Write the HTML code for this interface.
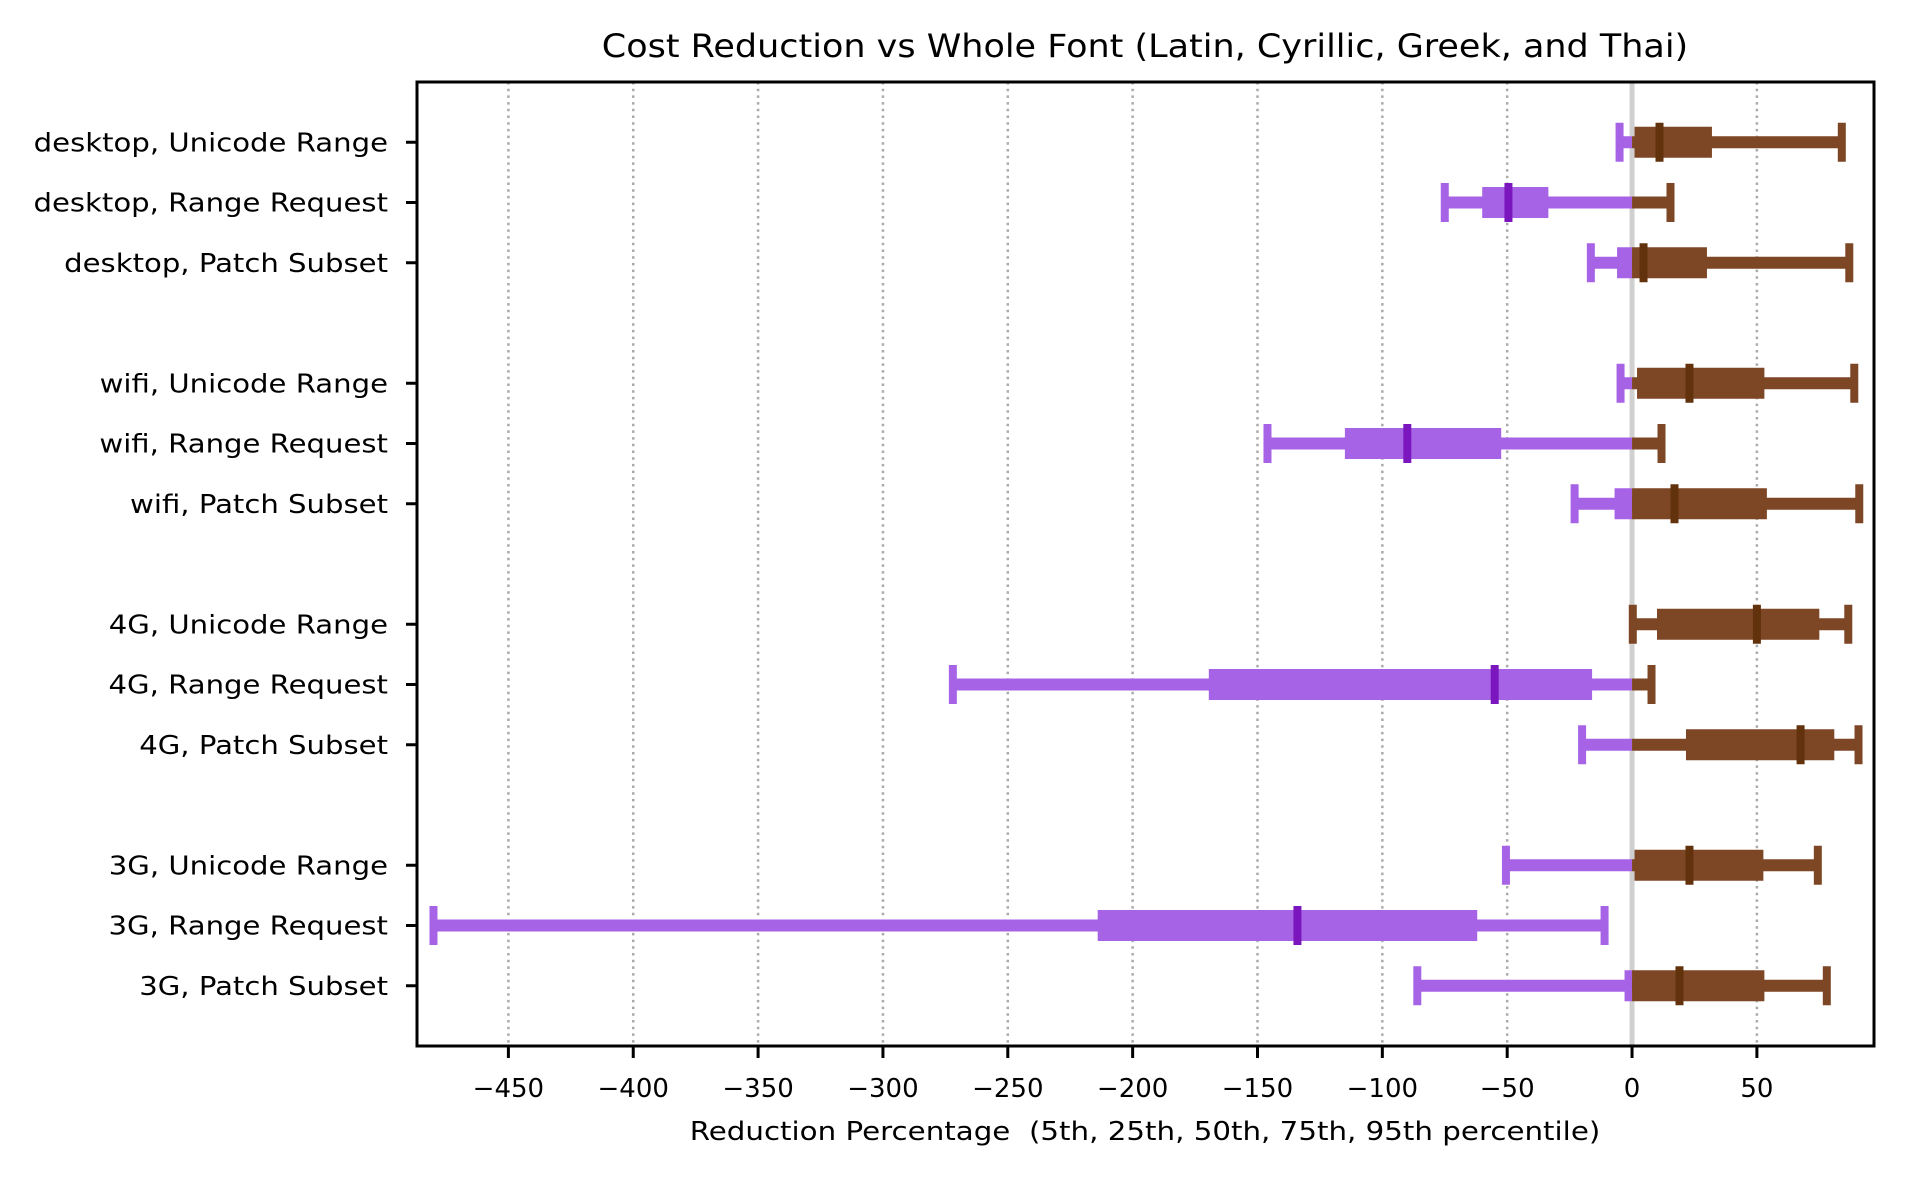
<!DOCTYPE html>
<html><head><meta charset="utf-8"><style>
html,body{margin:0;padding:0;background:#fff;}
svg{display:block;font-family:"DejaVu Sans","Liberation Sans",sans-serif;}
</style></head><body>
<svg id="chart" width="1907" height="1178" viewBox="0 0 1907 1178" xmlns="http://www.w3.org/2000/svg">
<rect x="0" y="0" width="1907" height="1178" fill="#fff"/>
<text id="title" x="1145" y="57" text-anchor="middle" font-size="32" fill="#000">Cost Reduction vs Whole Font (Latin, Cyrillic, Greek, and Thai)</text>
<text id="xtitle" x="1145" y="1140" text-anchor="middle" font-size="26" fill="#000" xml:space="preserve">Reduction Percentage  (5th, 25th, 50th, 75th, 95th percentile)</text>
<g id="grid"></g><g id="marks"></g><g id="axes"></g>
</svg>
<script>
const categories = ["desktop, Unicode Range","desktop, Range Request","desktop, Patch Subset",
 "wifi, Unicode Range","wifi, Range Request","wifi, Patch Subset",
 "4G, Unicode Range","4G, Range Request","4G, Patch Subset",
 "3G, Unicode Range","3G, Range Request","3G, Patch Subset"];
const rowSlots = [0,1,2,4,5,6,8,9,10,12,13,14];
const p5  = [-5,  -75, -16.5, -4.6, -146, -23, 0.3, -272, -20, -50.5, -480, -86];
const p25 = [1,   -60, -6,    2,    -115, -7,  10,   -169.5, 21.6, 1, -214, -3];
const p50 = [11,  -49.5, 4.6, 23,   -90,  17,  50,   -55, 67.5, 23, -134, 19];
const p75 = [32,  -33.5, 30,  53,   -52.4, 54, 75,   -16, 81, 52.6, -62, 53];
const p95 = [84,  15.4, 87,   89,   11.8, 91,  86.6, 7.8, 90.7, 74.4, -11, 78];
const xTicks = [-450,-400,-350,-300,-250,-200,-150,-100,-50,0,50];

const L=417,R=1874,T=82,B=1046;
const xMin=-486.6,xMax=96.9;
const xs=v=>L+(v-xMin)/(xMax-xMin)*(R-L);
const ys=s=>T+(s+1)/16*(B-T);
const NS="http://www.w3.org/2000/svg";
function mk(tag,attrs,parent){const e=document.createElementNS(NS,tag);for(const k in attrs)e.setAttribute(k,attrs[k]);parent.appendChild(e);return e;}
function widen(el,f){const w=el.getComputedTextLength();el.setAttribute('textLength',w*f);el.setAttribute('lengthAdjust','spacingAndGlyphs');}
const grid=document.getElementById('grid'),marks=document.getElementById('marks'),axes=document.getElementById('axes');

xTicks.forEach(t=>{
  if(t!==0){
    const g=mk('line',{x1:xs(t),x2:xs(t),y1:T,y2:B,stroke:'#aaaaaa','stroke-width':2.5,'stroke-dasharray':'2.5,4.2'},grid);
    
    
  }
});
const zl=mk('line',{x1:xs(0),x2:xs(0),y1:T,y2:B,stroke:'#d0d0d0','stroke-width':5},grid);



const PUR='#a763e6',BRN='#7d4725',DPUR='#7b16bf',DBRN='#62320c';
function seg(a,b,y,h,name){
  if(a<0){const e=Math.min(b,0);const r=mk('rect',{x:xs(a),y:y-h/2,width:xs(e)-xs(a),height:h,fill:PUR},marks);
    
    }
  if(b>0){const s=Math.max(a,0);const r=mk('rect',{x:xs(s),y:y-h/2,width:xs(b)-xs(s),height:h,fill:BRN},marks);
    
    }
}
function tickMark(v,y,h,col,name){
  const r=mk('rect',{x:xs(v)-4,y:y-h/2,width:8,height:h,fill:col},marks);
  
  
}
categories.forEach((c,i)=>{
  const y=ys(rowSlots[i]);
  seg(p5[i],p95[i],y,12,'whisker');
  seg(p25[i],p75[i],y,31,'iqr-box');
  tickMark(p5[i],y,39,p5[i]<0?PUR:BRN,'p5-cap');
  tickMark(p95[i],y,39,p95[i]<0?PUR:BRN,'p95-cap');
  tickMark(p50[i],y,39,p50[i]<0?DPUR:DBRN,'median-mark');
  const tk=mk('line',{x1:L-11,x2:L,y1:y,y2:y,stroke:'#000','stroke-width':3},axes);
  
  
  const tx=mk('text',{x:388,y:y+9,'text-anchor':'end','font-size':26,fill:'#000'},axes);
  tx.textContent=c;
  
  
  widen(tx,1.12);
});
xTicks.forEach(t=>{
  const tk=mk('line',{x1:xs(t),x2:xs(t),y1:B,y2:B+12,stroke:'#000','stroke-width':3},axes);
  
  
  const tx=mk('text',{x:xs(t),y:1097,'text-anchor':'middle','font-size':26,fill:'#000'},axes);
  tx.textContent=(t<0?'\u2212'+(-t):String(t));
  
  
});
widen(document.getElementById('title'),1.093);
widen(document.getElementById('xtitle'),1.127);
const fr=mk('rect',{x:L,y:T,width:R-L,height:B-T,fill:'none',stroke:'#000','stroke-width':3},axes);


</script>
</body></html>
